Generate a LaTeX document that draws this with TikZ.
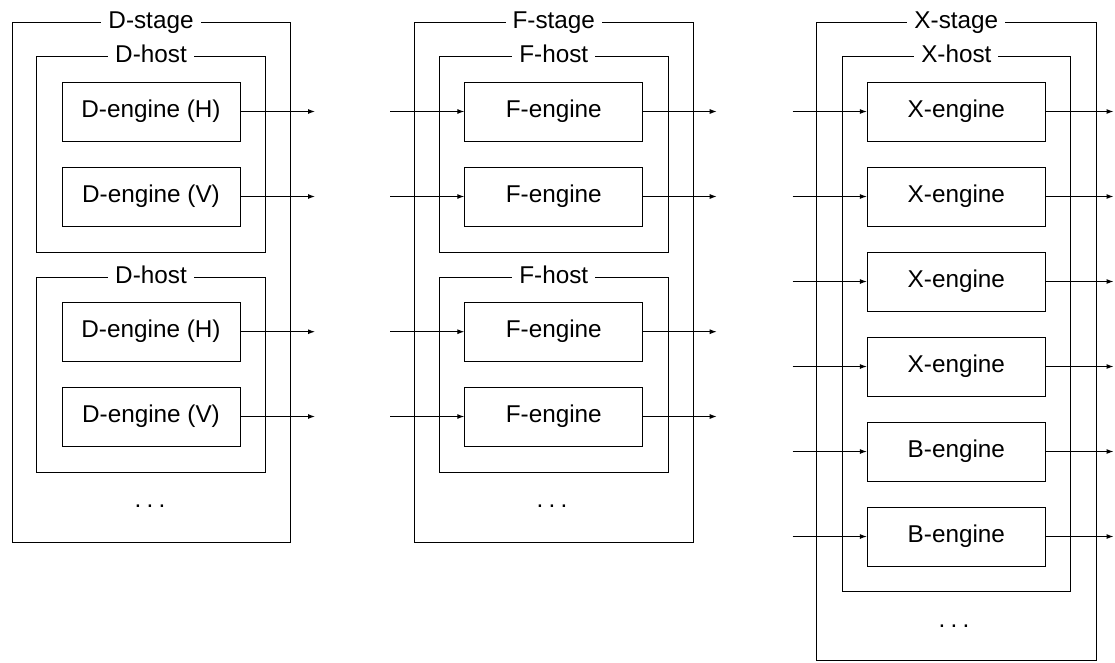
\documentclass[tikz,border=0pt]{standalone}
\usepackage{fontspec}
\setmainfont{Liberation Sans}
\usetikzlibrary{arrows.meta}
\newcommand{\mydots}{.\kern5.3pt.\kern5.3pt.}
\begin{document}
\begin{tikzpicture}[x=1pt,y=-1pt,
  every node/.style={font=\fontsize{24.3}{29}\selectfont},
  frame/.style={draw,line width=1pt,inner sep=0pt},
  engine/.style={draw,line width=1pt,minimum width=178pt,minimum height=59pt,inner sep=0pt,text height=17.5pt,text depth=5pt},
  flabel/.style={fill=white,inner xsep=7pt,inner ysep=1pt,text height=17.5pt,text depth=5pt},
  arr/.style={line width=1pt,-{Latex[length=7pt,width=5pt]}}]
\useasboundingbox (0,0) rectangle (1115,662);

% ---------- D stage ----------
\node[frame,minimum width=278pt,minimum height=520pt] (Dstage) at (151,282.7) {};
\node[flabel] (DstageL) at (Dstage.north) {D-stage};
\node[frame,minimum width=228.3pt,minimum height=195.3pt] (Dhost1) at (151,154.35) {};
\node[flabel] (Dhost1L) at (Dhost1.north) {D-host};
\node[frame,minimum width=228.3pt,minimum height=194.3pt] (Dhost2) at (151,374.85) {};
\node[flabel] (Dhost2L) at (Dhost2.north) {D-host};
\node[engine] (D1) at (151,111.5) {D-engine (H)};
\node[engine] (D2) at (151,196.5) {D-engine (V)};
\node[engine] (D3) at (151,331.7) {D-engine (H)};
\node[engine] (D4) at (151,416.5) {D-engine (V)};
\node (Ddots) at (150,506.5) {\mydots};
\foreach \i/\y in {1/111.5,2/196.5,3/331.7,4/416.5}{
  \coordinate (Do\i) at (315,\y);
  \draw[arr] (D\i.east) -- (Do\i);
}

% ---------- F stage ----------
\node[frame,minimum width=279pt,minimum height=520pt] (Fstage) at (553.8,282.7) {};
\node[flabel] (FstageL) at (Fstage.north) {F-stage};
\node[frame,minimum width=229pt,minimum height=195.3pt] (Fhost1) at (553.8,154.35) {};
\node[flabel] (Fhost1L) at (Fhost1.north) {F-host};
\node[frame,minimum width=229pt,minimum height=194.3pt] (Fhost2) at (553.8,374.85) {};
\node[flabel] (Fhost2L) at (Fhost2.north) {F-host};
\node[engine] (F1) at (553.8,111.5) {F-engine};
\node[engine] (F2) at (553.8,196.5) {F-engine};
\node[engine] (F3) at (553.8,331.7) {F-engine};
\node[engine] (F4) at (553.8,416.5) {F-engine};
\node (Fdots) at (552,506.5) {\mydots};
\foreach \i/\y in {1/111.5,2/196.5,3/331.7,4/416.5}{
  \coordinate (Fi\i) at (390,\y);
  \coordinate (Fo\i) at (716.7,\y);
  \draw[arr] (Fi\i) -- (F\i.west);
  \draw[arr] (F\i.east) -- (Fo\i);
}

% ---------- X stage ----------
\node[frame,minimum width=279.3pt,minimum height=638pt] (Xstage) at (956.35,341.7) {};
\node[flabel] (XstageL) at (Xstage.north) {X-stage};
\node[frame,minimum width=228.7pt,minimum height=535pt] (Xhost) at (956.35,324.2) {};
\node[flabel] (XhostL) at (Xhost.north) {X-host};
\node[engine] (X1) at (956.35,111.5) {X-engine};
\node[engine] (X2) at (956.35,196.5) {X-engine};
\node[engine] (X3) at (956.35,281.5) {X-engine};
\node[engine] (X4) at (956.35,366.5) {X-engine};
\node[engine] (X5) at (956.35,451.5) {B-engine};
\node[engine] (X6) at (956.35,536.5) {B-engine};
\node (Xdots) at (954,626.5) {\mydots};
\foreach \i/\y in {1/111.5,2/196.5,3/281.5,4/366.5,5/451.5,6/536.5}{
  \coordinate (Xi\i) at (792.7,\y);
  \coordinate (Xo\i) at (1113.5,\y);
  \draw[arr] (Xi\i) -- (X\i.west);
  \draw[arr] (X\i.east) -- (Xo\i);
}
\end{tikzpicture}
\end{document}
